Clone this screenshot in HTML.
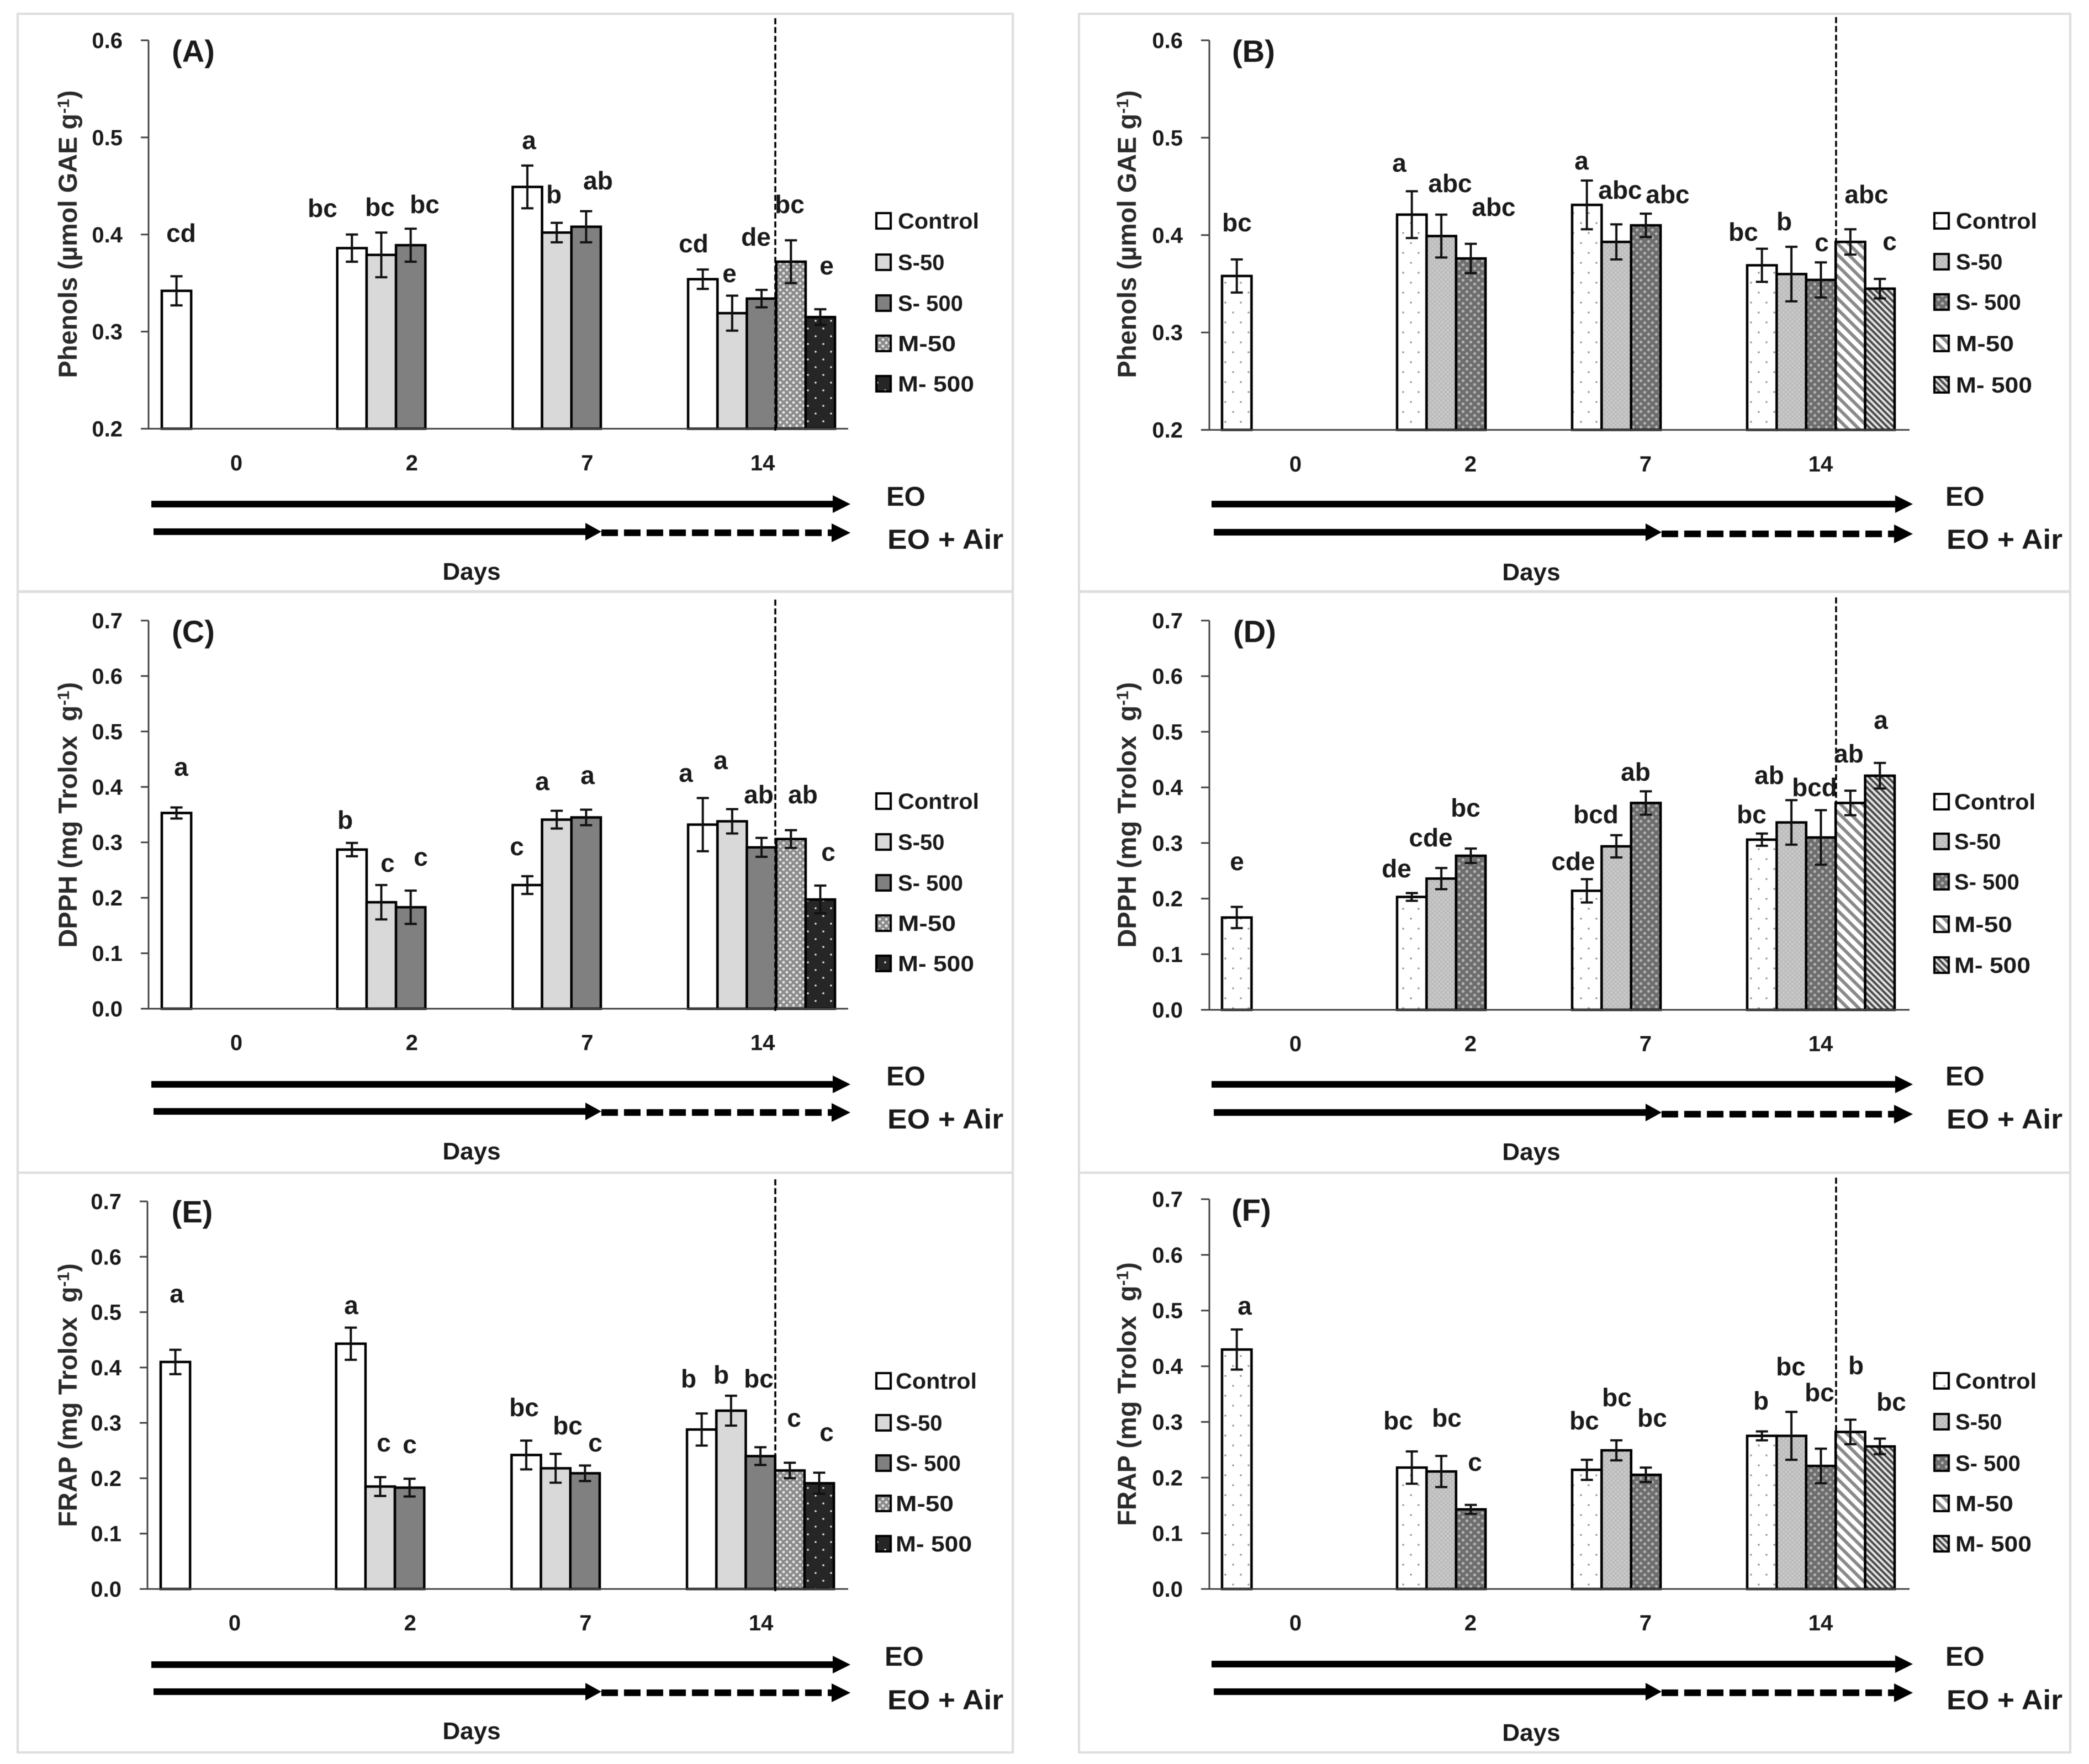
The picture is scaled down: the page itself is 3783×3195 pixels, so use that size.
<!DOCTYPE html>
<html lang="en">
<head>
<meta charset="utf-8">
<title>Phenols, DPPH and FRAP over storage days</title>
<style>
html,body{margin:0;padding:0;background:#fff;width:3783px;height:3195px;overflow:hidden}
svg{display:block;filter:blur(0.8px)}
text{font-family:"Liberation Sans",sans-serif;font-weight:bold;fill:#1a1a1a}
.l{font-size:46px;text-anchor:middle}
.p{font-size:56px;text-anchor:middle}
.g{font-size:40px}
.e{font-size:49px}
.a{font-size:50px}
.d{font-size:44px;text-anchor:middle}
.y{font-size:47px;text-anchor:middle;fill:#2a2a2a}
.s{font-size:30px}
</style>
</head>
<body>
<svg id="figure" xmlns="http://www.w3.org/2000/svg" width="3783" height="3195" viewBox="0 0 3783 3195">
<defs>
<pattern id="pat-m50-solid" patternUnits="userSpaceOnUse" width="12" height="12"><rect width="12" height="12" fill="#8c8c8c"/><circle cx="3" cy="3" r="2.4" fill="#e8e8e8"/><circle cx="9" cy="9" r="2.4" fill="#e8e8e8"/></pattern>
<pattern id="pat-m500-solid" patternUnits="userSpaceOnUse" width="28" height="28"><rect width="28" height="28" fill="#262626"/><circle cx="7" cy="7" r="1.8" fill="#ddd"/><circle cx="21" cy="21" r="1.8" fill="#ddd"/></pattern>
<pattern id="pat-control-dot" patternUnits="userSpaceOnUse" width="28" height="36"><rect width="28" height="36" fill="#fff"/><circle cx="7" cy="8" r="1.8" fill="#999"/><circle cx="21" cy="26" r="1.8" fill="#999"/></pattern>
<pattern id="pat-s50-dot" patternUnits="userSpaceOnUse" width="8" height="8"><rect width="8" height="8" fill="#bdbdbd"/><circle cx="2" cy="2" r="1.3" fill="#d8d8d8"/><circle cx="6" cy="6" r="1.3" fill="#d8d8d8"/></pattern>
<pattern id="pat-s500-weave" patternUnits="userSpaceOnUse" width="14" height="14"><rect width="14" height="14" fill="#6e6e6e"/><circle cx="3.5" cy="3.5" r="2.6" fill="#b4b4b4"/><circle cx="10.5" cy="10.5" r="2.6" fill="#b4b4b4"/></pattern>
<pattern id="pat-m50-stripe" patternUnits="userSpaceOnUse" width="14" height="14" patternTransform="rotate(45)"><rect width="14" height="14" fill="#fff"/><rect width="14" height="6" fill="#8a8a8a"/></pattern>
<pattern id="pat-m500-stripe" patternUnits="userSpaceOnUse" width="8" height="8" patternTransform="rotate(45)"><rect width="8" height="8" fill="#e4e4e4"/><rect width="8" height="4" fill="#4a4a4a"/></pattern>
</defs>

<g id="layer-frames"></g>
<g id="layer-marks"></g>

<!-- Panel A -->
<g>
<text class="p" x="350" y="112">(A)</text>
<text class="y" transform="translate(139,424) rotate(-90)">Phenols (µmol GAE g<tspan class="s" dy="-14">-1</tspan><tspan dy="14">)</tspan></text>
<text class="l" x="328" y="438">cd</text>
<text class="l" x="584" y="393">bc</text>
<text class="l" x="688" y="391">bc</text>
<text class="l" x="769" y="386">bc</text>
<text class="l" x="958" y="270">a</text>
<text class="l" x="1003" y="368">b</text>
<text class="l" x="1083" y="343">ab</text>
<text class="l" x="1256" y="457">cd</text>
<text class="l" x="1321" y="511">e</text>
<text class="l" x="1369" y="445">de</text>
<text class="l" x="1430" y="386">bc</text>
<text class="l" x="1497" y="497">e</text>
<text class="g" x="1626" y="414" textLength="147" lengthAdjust="spacingAndGlyphs">Control</text>
<text class="g" x="1626" y="489">S-50</text>
<text class="g" x="1626" y="563">S- 500</text>
<text class="g" x="1626" y="636" textLength="105" lengthAdjust="spacingAndGlyphs">M-50</text>
<text class="g" x="1626" y="709" textLength="138" lengthAdjust="spacingAndGlyphs">M- 500</text>
<text class="e" x="1605" y="916">EO</text>
<text class="a" x="1607" y="994" textLength="210" lengthAdjust="spacingAndGlyphs">EO + Air</text>
<text class="d" x="854" y="1050">Days</text>
</g>

<!-- Panel B -->
<g>
<text class="p" x="2270" y="112">(B)</text>
<text class="y" transform="translate(2057,424) rotate(-90)">Phenols (µmol GAE g<tspan class="s" dy="-14">-1</tspan><tspan dy="14">)</tspan></text>
<text class="l" x="2240" y="419">bc</text>
<text class="l" x="2534" y="311">a</text>
<text class="l" x="2626" y="348">abc</text>
<text class="l" x="2705" y="391">abc</text>
<text class="l" x="2864" y="307">a</text>
<text class="l" x="2934" y="360">abc</text>
<text class="l" x="3020" y="368">abc</text>
<text class="l" x="3157" y="436">bc</text>
<text class="l" x="3231" y="417">b</text>
<text class="l" x="3299" y="455">c</text>
<text class="l" x="3380" y="368">abc</text>
<text class="l" x="3422" y="453">c</text>
<text class="g" x="3542" y="414" textLength="147" lengthAdjust="spacingAndGlyphs">Control</text>
<text class="g" x="3542" y="488">S-50</text>
<text class="g" x="3542" y="561">S- 500</text>
<text class="g" x="3542" y="636" textLength="105" lengthAdjust="spacingAndGlyphs">M-50</text>
<text class="g" x="3542" y="711" textLength="138" lengthAdjust="spacingAndGlyphs">M- 500</text>
<text class="e" x="3523" y="916">EO</text>
<text class="a" x="3525" y="994" textLength="210" lengthAdjust="spacingAndGlyphs">EO + Air</text>
<text class="d" x="2773" y="1051">Days</text>
</g>

<!-- Panel C -->
<g>
<text class="p" x="350" y="1163">(C)</text>
<text class="y" transform="translate(139,1476) rotate(-90)">DPPH (mg Trolox&#160;&#160;g<tspan class="s" dy="-14">-1</tspan><tspan dy="14">)</tspan></text>
<text class="l" x="328" y="1405">a</text>
<text class="l" x="625" y="1501">b</text>
<text class="l" x="702" y="1579">c</text>
<text class="l" x="762" y="1568">c</text>
<text class="l" x="936" y="1549">c</text>
<text class="l" x="982" y="1431">a</text>
<text class="l" x="1064" y="1420">a</text>
<text class="l" x="1242" y="1416">a</text>
<text class="l" x="1305" y="1393">a</text>
<text class="l" x="1374" y="1455">ab</text>
<text class="l" x="1454" y="1455">ab</text>
<text class="l" x="1500" y="1559">c</text>
<text class="g" x="1626" y="1465" textLength="147" lengthAdjust="spacingAndGlyphs">Control</text>
<text class="g" x="1626" y="1539">S-50</text>
<text class="g" x="1626" y="1613">S- 500</text>
<text class="g" x="1626" y="1686" textLength="105" lengthAdjust="spacingAndGlyphs">M-50</text>
<text class="g" x="1626" y="1759" textLength="138" lengthAdjust="spacingAndGlyphs">M- 500</text>
<text class="e" x="1605" y="1966">EO</text>
<text class="a" x="1607" y="2044" textLength="210" lengthAdjust="spacingAndGlyphs">EO + Air</text>
<text class="d" x="854" y="2100">Days</text>
</g>

<!-- Panel D -->
<g>
<text class="p" x="2272" y="1163">(D)</text>
<text class="y" transform="translate(2057,1476) rotate(-90)">DPPH (mg Trolox&#160;&#160;g<tspan class="s" dy="-14">-1</tspan><tspan dy="14">)</tspan></text>
<text class="l" x="2240" y="1576">e</text>
<text class="l" x="2529" y="1589">de</text>
<text class="l" x="2591" y="1533">cde</text>
<text class="l" x="2654" y="1479">bc</text>
<text class="l" x="2849" y="1576">cde</text>
<text class="l" x="2890" y="1491">bcd</text>
<text class="l" x="2962" y="1414">ab</text>
<text class="l" x="3172" y="1491">bc</text>
<text class="l" x="3204" y="1420">ab</text>
<text class="l" x="3286" y="1442">bcd</text>
<text class="l" x="3348" y="1381">ab</text>
<text class="l" x="3406" y="1320">a</text>
<text class="g" x="3539" y="1466" textLength="147" lengthAdjust="spacingAndGlyphs">Control</text>
<text class="g" x="3539" y="1538">S-50</text>
<text class="g" x="3539" y="1611">S- 500</text>
<text class="g" x="3539" y="1688" textLength="105" lengthAdjust="spacingAndGlyphs">M-50</text>
<text class="g" x="3539" y="1762" textLength="138" lengthAdjust="spacingAndGlyphs">M- 500</text>
<text class="e" x="3523" y="1966">EO</text>
<text class="a" x="3525" y="2044" textLength="210" lengthAdjust="spacingAndGlyphs">EO + Air</text>
<text class="d" x="2773" y="2101">Days</text>
</g>

<!-- Panel E -->
<g>
<text class="p" x="348" y="2214">(E)</text>
<text class="y" transform="translate(139,2527) rotate(-90)">FRAP (mg Trolox&#160;&#160;g<tspan class="s" dy="-14">-1</tspan><tspan dy="14">)</tspan></text>
<text class="l" x="320" y="2359">a</text>
<text class="l" x="636" y="2380">a</text>
<text class="l" x="695" y="2629">c</text>
<text class="l" x="742" y="2632">c</text>
<text class="l" x="949" y="2565">bc</text>
<text class="l" x="1028" y="2598">bc</text>
<text class="l" x="1078" y="2629">c</text>
<text class="l" x="1247" y="2513">b</text>
<text class="l" x="1306" y="2506">b</text>
<text class="l" x="1374" y="2513">bc</text>
<text class="l" x="1438" y="2584">c</text>
<text class="l" x="1497" y="2610">c</text>
<text class="g" x="1622" y="2515" textLength="147" lengthAdjust="spacingAndGlyphs">Control</text>
<text class="g" x="1622" y="2591">S-50</text>
<text class="g" x="1622" y="2664">S- 500</text>
<text class="g" x="1622" y="2737" textLength="105" lengthAdjust="spacingAndGlyphs">M-50</text>
<text class="g" x="1622" y="2810" textLength="138" lengthAdjust="spacingAndGlyphs">M- 500</text>
<text class="e" x="1602" y="3017">EO</text>
<text class="a" x="1607" y="3096" textLength="210" lengthAdjust="spacingAndGlyphs">EO + Air</text>
<text class="d" x="854" y="3150">Days</text>
</g>

<!-- Panel F -->
<g>
<text class="p" x="2266" y="2211">(F)</text>
<text class="y" transform="translate(2057,2525) rotate(-90)">FRAP (mg Trolox&#160;&#160;g<tspan class="s" dy="-14">-1</tspan><tspan dy="14">)</tspan></text>
<text class="l" x="2254" y="2381">a</text>
<text class="l" x="2532" y="2589">bc</text>
<text class="l" x="2620" y="2584">bc</text>
<text class="l" x="2671" y="2664">c</text>
<text class="l" x="2869" y="2589">bc</text>
<text class="l" x="2928" y="2547">bc</text>
<text class="l" x="2992" y="2584">bc</text>
<text class="l" x="3189" y="2553">b</text>
<text class="l" x="3243" y="2491">bc</text>
<text class="l" x="3295" y="2538">bc</text>
<text class="l" x="3361" y="2489">b</text>
<text class="l" x="3425" y="2555">bc</text>
<text class="g" x="3541" y="2515" textLength="147" lengthAdjust="spacingAndGlyphs">Control</text>
<text class="g" x="3541" y="2589">S-50</text>
<text class="g" x="3541" y="2664">S- 500</text>
<text class="g" x="3541" y="2737" textLength="105" lengthAdjust="spacingAndGlyphs">M-50</text>
<text class="g" x="3541" y="2810" textLength="138" lengthAdjust="spacingAndGlyphs">M- 500</text>
<text class="e" x="3523" y="3017">EO</text>
<text class="a" x="3525" y="3096" textLength="210" lengthAdjust="spacingAndGlyphs">EO + Air</text>
<text class="d" x="2773" y="3153">Days</text>
</g>
</svg>

<script>
// ---------- chart data ----------
const categories = ['0', '2', '7', '14'];
const phenolTicks = ['0.2', '0.3', '0.4', '0.5', '0.6'];
const trolaxTicks = ['0.0', '0.1', '0.2', '0.3', '0.4', '0.5', '0.6', '0.7'];

const panelAValues = [[0.342], [0.386, 0.379, 0.389], [0.449, 0.402, 0.408], [0.354, 0.319, 0.334, 0.372, 0.315]];
const panelAErrors = [[0.015], [0.014, 0.023, 0.017], [0.022, 0.010, 0.016], [0.010, 0.018, 0.009, 0.022, 0.008]];

const panelBValues = [[0.358], [0.421, 0.399, 0.376], [0.431, 0.393, 0.410], [0.369, 0.360, 0.354, 0.393, 0.345]];
const panelBErrors = [[0.017], [0.024, 0.022, 0.015], [0.025, 0.018, 0.012], [0.017, 0.028, 0.018, 0.013, 0.010]];

const panelCValues = [[0.353], [0.287, 0.192, 0.183], [0.223, 0.341, 0.345], [0.332, 0.338, 0.291, 0.306, 0.197]];
const panelCErrors = [[0.010], [0.012, 0.031, 0.030], [0.016, 0.016, 0.014], [0.048, 0.022, 0.017, 0.016, 0.025]];

const panelDValues = [[0.166], [0.203, 0.236, 0.277], [0.214, 0.294, 0.372], [0.306, 0.337, 0.310, 0.372, 0.421]];
const panelDErrors = [[0.019], [0.007, 0.019, 0.013], [0.021, 0.020, 0.021], [0.011, 0.040, 0.049, 0.022, 0.023]];

const panelEValues = [[0.410], [0.443, 0.185, 0.183], [0.242, 0.218, 0.209], [0.288, 0.322, 0.240, 0.214, 0.191]];
const panelEErrors = [[0.022], [0.029, 0.017, 0.016], [0.026, 0.026, 0.014], [0.029, 0.027, 0.016, 0.014, 0.019]];

const panelFValues = [[0.430], [0.218, 0.211, 0.143], [0.214, 0.249, 0.205], [0.275, 0.275, 0.221, 0.282, 0.256]];
const panelFErrors = [[0.036], [0.029, 0.028, 0.008], [0.018, 0.018, 0.013], [0.008, 0.043, 0.031, 0.022, 0.014]];

// ---------- layout (pixels, separate from data) ----------
const solidFills = ['#ffffff', '#d9d9d9', '#808080', 'url(#pat-m50-solid)', 'url(#pat-m500-solid)'];
const textureFills = ['url(#pat-control-dot)', 'url(#pat-s50-dot)', 'url(#pat-s500-weave)', 'url(#pat-m50-stripe)', 'url(#pat-m500-stripe)'];

const leftCol = { axisX: 269, tickX: 255, baseEnd: 1536, barStart: 293, barW: 53.2, step: 317.7, labelX: 222, catCenter: 428, legendX: 1587, dashX: 1404, frameX: 32, frameW: 1802, arrowDx: 0, tipExtra: 0 };
const rightCol = { axisX: 2190, tickX: 2175, baseEnd: 3458, barStart: 2213, barW: 53.4, step: 317, labelX: 2142, catCenter: 2346, legendX: 3503, dashX: 3325, frameX: 1954, frameW: 1795, arrowDx: 1920, tipExtra: 4 };

const panels = [
  { id: 'a', col: leftCol, shift: 0, values: panelAValues, errors: panelAErrors, ticks: phenolTicks, fills: solidFills, yTop: 73, yBase: 776.5, dashTop: 33, dashEnd: 780, catY: 852, eoY: 913, airY: 963, airDashY: 965, legendY: [400, 475, 549, 622, 695], frameY: 25, frameH: 1046 },
  { id: 'b', col: rightCol, shift: 0, values: panelBValues, errors: panelBErrors, ticks: phenolTicks, fills: textureFills, yTop: 73, yBase: 778.6, dashTop: 31, dashEnd: 780, catY: 854, eoY: 913, airY: 964, airDashY: 967, legendY: [400, 474, 547, 622, 697], frameY: 25, frameH: 1046 },
  { id: 'c', col: leftCol, shift: 0, values: panelCValues, errors: panelCErrors, ticks: trolaxTicks, fills: solidFills, yTop: 1124, yBase: 1827, dashTop: 1086, dashEnd: 1831, catY: 1902, eoY: 1964, airY: 2013, airDashY: 2015, legendY: [1451, 1525, 1599, 1672, 1745], frameY: 1072, frameH: 1052 },
  { id: 'd', col: rightCol, shift: 0, values: panelDValues, errors: panelDErrors, ticks: trolaxTicks, fills: textureFills, yTop: 1124, yBase: 1829, dashTop: 1082, dashEnd: 1830, catY: 1904, eoY: 1964, airY: 2015, airDashY: 2018, legendY: [1452, 1524, 1597, 1674, 1748], frameY: 1072, frameH: 1052 },
  { id: 'e', col: leftCol, shift: -2, values: panelEValues, errors: panelEErrors, ticks: trolaxTicks, fills: solidFills, yTop: 2176, yBase: 2878, dashTop: 2136, dashEnd: 2882, catY: 2953, eoY: 3015, airY: 3064, airDashY: 3066, legendY: [2501, 2577, 2650, 2723, 2796], frameY: 2124, frameH: 1050 },
  { id: 'f', col: rightCol, shift: 0, values: panelFValues, errors: panelFErrors, ticks: trolaxTicks, fills: textureFills, yTop: 2172, yBase: 2878, dashTop: 2133, dashEnd: 2878, catY: 2953, eoY: 3014, airY: 3064, airDashY: 3066, legendY: [2501, 2575, 2650, 2723, 2796], frameY: 2124, frameH: 1050 }
];

const NS = 'http://www.w3.org/2000/svg';
const frameLayer = document.getElementById('layer-frames');
const markLayer = document.getElementById('layer-marks');

function mk(tag, attrs, parent) {
  const el = document.createElementNS(NS, tag);
  for (const k in attrs) el.setAttribute(k, attrs[k]);
  parent.appendChild(el);
  return el;
}

function drawArrows(p, g) {
  const dx = p.col.arrowDx;
  const tip = 1540 + dx + p.col.tipExtra;
  const eo = mk('path', { d: `M${274 + dx} ${p.eoY - 6}H${tip - 32}V${p.eoY - 16}L${tip} ${p.eoY}L${tip - 32} ${p.eoY + 16}V${p.eoY + 6}H${274 + dx}Z`, fill: '#000' }, g);
  
  
  const air = mk('path', { d: `M${278 + dx} ${p.airY - 6}H${1060 + dx}V${p.airY - 16}L${1089 + dx} ${p.airY}L${1060 + dx} ${p.airY + 16}V${p.airY + 6}H${278 + dx}Z`, fill: '#000' }, g);
  
  
  const dash = mk('line', { x1: 1089 + dx, x2: tip - 34, y1: p.airDashY, y2: p.airDashY, stroke: '#000', 'stroke-width': 12, 'stroke-dasharray': '30 11' }, g);
  
  
  const head = mk('path', { d: `M${tip - 34} ${p.airDashY - 17}L${tip} ${p.airDashY}L${tip - 34} ${p.airDashY + 17}Z`, fill: '#000' }, g);
  
  
}

function drawPanel(p) {
  const c = p.col;
  const frame = mk('rect', { x: c.frameX, y: p.frameY, width: c.frameW, height: p.frameH, fill: '#fff', stroke: '#dedede', 'stroke-width': 4 }, frameLayer);
  
  

  const g = mk('g', {}, markLayer);
  
  

  const min = parseFloat(p.ticks[0]);
  const max = parseFloat(p.ticks[p.ticks.length - 1]);
  const yScale = v => p.yBase - (v - min) / (max - min) * (p.yBase - p.yTop);
  const xScale = (day, s) => c.barStart + p.shift + day * c.step + s * c.barW;

  // axis lines
  const yAxis = mk('line', { x1: c.axisX + p.shift, x2: c.axisX + p.shift, y1: p.yTop, y2: p.yBase, stroke: '#444', 'stroke-width': 3 }, g);
  
  

  // y ticks
  p.ticks.forEach(t => {
    const y = yScale(parseFloat(t));
    const tick = mk('line', { x1: c.tickX + p.shift, x2: c.axisX + p.shift, y1: y, y2: y, stroke: '#444', 'stroke-width': 3 }, g);
    
    
    const label = mk('text', { x: c.labelX + p.shift, y: y + 14, 'text-anchor': 'end', 'font-size': 40 }, g);
    
    
    label.textContent = t;
  });

  // category labels
  categories.forEach((cat, i) => {
    const label = mk('text', { x: c.catCenter + p.shift * 1.5 + i * c.step, y: p.catY, 'text-anchor': 'middle', 'font-size': 40 }, g);
    
    
    label.textContent = cat;
  });

  // bars
  p.values.forEach((group, day) => {
    group.forEach((v, s) => {
      const top = yScale(v);
      const bar = mk('rect', { x: xScale(day, s), y: top, width: c.barW, height: p.yBase - top, fill: p.fills[s], stroke: '#000', 'stroke-width': 4.5 }, g);
      
      
    });
  });

  const baseLine = mk('line', { x1: c.tickX + p.shift, x2: c.baseEnd, y1: p.yBase, y2: p.yBase, stroke: '#444', 'stroke-width': 3 }, g);
  
  

  // vertical dashed marker
  const marker = mk('line', { x1: c.dashX, x2: c.dashX, y1: p.dashTop, y2: p.dashEnd, stroke: '#000', 'stroke-width': 3.5, 'stroke-dasharray': '11 5' }, g);
  
  

  // error bars
  p.values.forEach((group, day) => {
    group.forEach((v, s) => {
      const cx = xScale(day, s) + c.barW / 2;
      const hi = yScale(v + p.errors[day][s]);
      const lo = yScale(v - p.errors[day][s]);
      const stem = mk('path', { d: `M${cx - 11} ${hi}H${cx + 11}M${cx} ${hi}V${lo}M${cx - 11} ${lo}H${cx + 11}`, fill: 'none', stroke: '#111', 'stroke-width': 4 }, g);
      
      
    });
  });

  // legend swatches
  p.legendY.forEach((ly, s) => {
    const swatch = mk('rect', { x: c.legendX, y: ly - 14, width: 26, height: 28, fill: p.fills[s], stroke: '#000', 'stroke-width': 4 }, g);
    
    
  });

  drawArrows(p, g);
}

panels.forEach(drawPanel);
</script>
</body>
</html>
